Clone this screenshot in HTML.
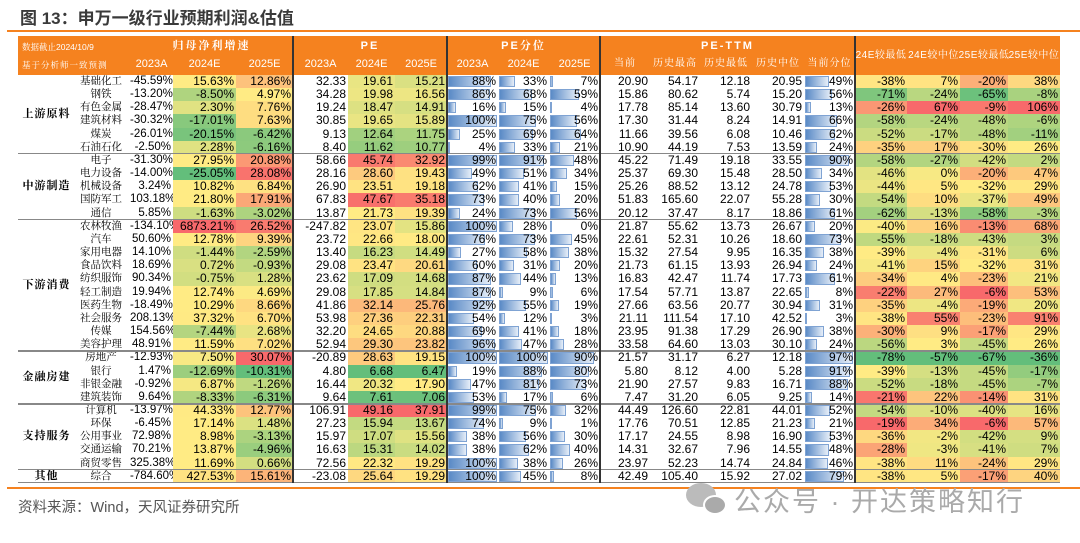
<!DOCTYPE html>
<html><head><meta charset="utf-8">
<style>
body{margin:0;width:1080px;height:543px;background:#fff;position:relative;overflow:hidden;font-family:"Liberation Sans","Noto Sans CJK SC",sans-serif}
.a{position:absolute;box-sizing:border-box;white-space:nowrap}
.t{font-size:12px;color:#000;line-height:13px}
.hd{color:#fff;font-size:11px;font-family:"Liberation Sans","Noto Serif CJK SC",serif}
</style></head><body>
<div class="a" style="left:20px;top:4px;font-size:17px;font-weight:bold;color:#3a3a3a;font-family:'Liberation Sans','Noto Sans CJK SC',sans-serif">图 13：申万一级行业预期利润&amp;估值</div>
<div class="a" style="left:7px;top:30px;width:1073px;height:2px;background:#F5821F"></div>
<div id="tb"></div>
<div class="a" style="left:7px;top:487px;width:1073px;height:2px;background:#F5821F"></div>
<div class="a" style="left:18px;top:496px;font-size:14.5px;color:#555">资料来源：Wind，天风证券研究所</div>
<div class="a" style="left:686px;top:483px;width:30px;height:24px;border-radius:50%;background:#bbb"></div>
<div class="a" style="left:703px;top:495px;width:24px;height:20px;border-radius:50%;background:#aaa;border:2px solid #fff"></div>
<div class="a" style="left:734px;top:480px;font-size:27px;color:#aaa;letter-spacing:2px">公众号 · 开达策略知行</div>
<script>
const X=[18,75,130,173,236,293,348,395,447,498,549,600,650,700,752,804,855,907,960,1008,1060];
const groups=[["上游原料",6],["中游制造",5],["下游消费",10],["金融房建",4],["支持服务",5],["其他",1]];
const D=`基础化工 -45.59 15.63 12.86 32.33 19.61 15.21 88 33 7 20.90 54.17 12.18 20.95 49 -38 7 -20 38
钢铁 -13.20 -8.50 4.97 34.28 19.98 16.56 86 68 59 15.86 80.62 5.74 15.20 56 -71 -24 -65 -8
有色金属 -28.47 2.30 7.76 19.24 18.47 14.91 16 15 4 17.78 85.14 13.60 30.79 13 -26 67 -9 106
建筑材料 -30.32 -17.01 7.63 30.85 19.65 15.89 100 75 56 17.30 31.44 8.24 14.91 66 -58 -24 -48 -6
煤炭 -26.01 -20.15 -6.42 9.13 12.64 11.75 25 69 64 11.66 39.56 6.08 10.46 62 -52 -17 -48 -11
石油石化 -2.50 2.28 -6.16 8.40 11.62 10.77 4 33 21 10.90 44.19 7.53 13.59 24 -35 17 -30 26
电子 -31.30 27.95 20.88 58.66 45.74 32.92 99 91 48 45.22 71.49 19.18 33.55 90 -58 -27 -42 2
电力设备 -14.00 -25.05 28.08 28.16 28.60 19.43 49 51 34 25.37 69.30 15.48 28.50 34 -46 0 -20 47
机械设备 3.24 10.82 6.84 26.90 23.51 19.18 62 41 15 25.26 88.52 13.12 24.78 53 -44 5 -32 29
国防军工 103.18 21.80 17.91 67.83 47.67 35.18 73 40 20 51.83 165.60 22.07 55.28 30 -54 10 -37 49
通信 5.85 -1.63 -3.02 13.87 21.73 19.39 24 73 56 20.12 37.47 8.17 18.86 61 -62 -13 -58 -3
农林牧渔 -134.10 6873.21 26.52 -247.82 23.07 15.86 100 28 0 21.87 55.62 13.73 26.67 20 -40 16 -13 68
汽车 50.60 12.78 9.39 23.72 22.66 18.00 76 73 45 22.61 52.31 10.26 18.60 73 -55 -18 -43 3
家用电器 14.10 -1.44 -2.59 13.40 16.23 14.49 27 58 38 15.32 27.54 9.95 16.35 38 -39 -4 -31 6
食品饮料 18.69 0.72 -0.93 29.08 23.47 20.61 60 31 20 21.73 61.15 13.93 26.94 24 -41 15 -32 31
纺织服饰 90.34 -0.75 1.28 23.62 17.09 14.68 87 44 13 16.83 42.47 11.74 17.73 61 -34 4 -23 21
轻工制造 19.94 12.74 4.69 29.08 17.85 14.84 87 9 6 17.54 57.71 13.87 22.65 8 -22 27 -6 53
医药生物 -18.49 10.29 8.66 41.86 32.14 25.76 92 55 19 27.66 63.56 20.77 30.94 31 -35 -4 -19 20
社会服务 208.13 37.32 6.70 53.98 27.36 22.31 54 12 3 21.11 111.54 17.10 42.52 3 -38 55 -23 91
传媒 154.56 -7.44 2.68 32.20 24.65 20.88 69 41 18 23.95 91.38 17.29 26.90 38 -30 9 -17 29
美容护理 48.91 11.59 7.02 52.94 29.30 23.82 96 47 28 33.58 64.60 13.03 30.10 24 -56 3 -45 26
房地产 -12.93 7.50 30.07 -20.89 28.63 19.15 100 100 90 21.57 31.17 6.27 12.18 97 -78 -57 -67 -36
银行 1.47 -12.69 -10.31 4.80 6.68 6.47 19 88 80 5.80 8.12 4.00 5.28 91 -39 -13 -45 -17
非银金融 -0.92 6.87 -1.26 16.44 20.32 17.90 47 81 73 21.90 27.57 9.83 16.71 88 -52 -18 -45 -7
建筑装饰 9.64 -8.33 -6.31 9.64 7.61 7.06 53 17 6 7.47 31.20 6.05 9.25 14 -21 22 -14 31
计算机 -13.97 44.33 12.77 106.91 49.16 37.91 99 75 32 44.49 126.60 22.81 44.01 52 -54 -10 -40 16
环保 -6.45 17.14 1.48 27.23 15.94 13.67 74 9 1 17.76 70.51 12.85 21.23 21 -19 34 -6 57
公用事业 72.98 8.98 -3.13 15.97 17.07 15.56 38 56 30 17.17 24.55 8.98 16.90 53 -36 -2 -42 9
交通运输 70.21 13.87 -4.96 16.63 15.31 14.02 38 62 40 14.31 32.67 7.96 14.55 48 -28 -3 -41 7
商贸零售 325.38 11.69 0.66 72.56 22.32 19.29 100 38 26 23.97 52.23 14.74 24.84 46 -38 11 -24 29
综合 -784.60 427.53 15.61 -23.08 25.64 19.29 100 45 8 42.49 105.40 15.92 27.02 79 -38 5 -17 40`.split("\n").map(l=>l.trim().split(/\s+/));
const T0=75,RH=13.16,HT=36,HM=54;
let h="";
function box(x,y,w,hh,st,txt,cls){h+=`<div class="a ${cls||''}" style="left:${x}px;top:${y}px;width:${w}px;height:${hh}px;${st}">${txt||''}</div>`;}
box(18,HT,1042,T0-HT,"background:#F5821F");
box(22,HT+4,200,14,"font-size:8.5px;line-height:14px","数据截止2024/10/9","hd");
box(22,HM+4,200,14,"font-size:8.5px;line-height:14px;letter-spacing:1px","基于分析师一致预测","hd");
const grp=[[130,293,"归母净利增速"],[293,447,"PE"],[447,600,"PE分位"],[600,855,"PE-TTM"]];
grp.forEach(g=>box(g[0],HT+2,g[1]-g[0],16,"text-align:center;font-weight:bold;line-height:16px;font-size:11px;letter-spacing:2px",g[2],"hd"));
const sub=["2023A","2024E","2025E","2023A","2024E","2025E","2023A","2024E","2025E","当前","历史最高","历史最低","历史中位","当前分位"];
sub.forEach((s,i)=>box(X[i+2],HM+2,X[i+3]-X[i+2],16,"text-align:center;line-height:16px;"+(i>8?"font-size:10px;letter-spacing:1px":""),s,"hd"));
["24E较最低","24E较中位","25E较最低","25E较中位"].forEach((s,i)=>box(X[16+i]-2,HT,X[17+i]-X[16+i]+4,T0-HT,"text-align:center;line-height:"+(T0-HT)+"px;font-size:10px;letter-spacing:0.5px",s,"hd"));
function mix(a,b,t){return `rgb(${a.map((v,i)=>Math.round(v+(b[i]-v)*t)).join(",")})`}
const G=[99,190,123],Y=[255,235,132],R=[248,105,107];
const colored=[2,3,5,6,15,16,17,18];
const sc={};
colored.forEach(c=>{const v=D.map(r=>+r[c]).sort((a,b)=>a-b);const n=v.length;sc[c]=[v[0],(v[(n-1)/2|0]+v[n/2|0])/2,v[n-1]];});
function col(c,v){const [a,m,b]=sc[c];if(v<=m)return mix(G,Y,(v-a)/(m-a||1));return mix(Y,R,(v-m)/(b-m||1));}
const bars=[7,8,9,14];
D.forEach((r,ri)=>{
 const y=T0+ri*RH;
 box(75,y,52,RH,"text-align:center;font-size:10.5px;line-height:13px;letter-spacing:0;font-family:'Liberation Serif','Noto Serif CJK SC',serif",r[0],"t");
 for(let c=1;c<r.length;c++){
  const x=X[c+1],w=X[c+2]-x;let st="text-align:right;padding-right:2px;",txt=r[c];
  if(c<=3||c>=15)txt=r[c]+"%";
  if(bars.includes(c)){txt=r[c]+"%";const bw=Math.max(0,(w-2)*(+r[c])/100);
   h+=`<div class="a" style="left:${x+1}px;top:${y+1}px;width:${bw}px;height:${RH-2}px;background:linear-gradient(90deg,#5A8AC6,#e6eef8);border:1px solid #7fa3d3"></div>`;}
  if(colored.includes(c))st+="background:"+col(c,+r[c])+";";
  box(x,y,w,RH,st+"line-height:"+RH+"px;"+(c==1?"font-size:11.5px;":""),txt,"t");
 }
});
let gi=0;groups.forEach(g=>{const y=T0+gi*RH;box(18,y,57,g[1]*RH,`text-align:center;line-height:${g[1]*RH}px;font-weight:bold;font-size:11px;letter-spacing:1px;font-family:'Liberation Serif','Noto Serif CJK SC',serif`,g[0],"t");gi+=g[1];
 box(18,T0+gi*RH-1,1042,1.5,"background:#888");});
[293,447,600,855].forEach(x=>box(x-1,HT,1.5,T0+31*RH-HT,"background:#333"));
document.getElementById("tb").innerHTML=h;
</script>
</body></html>
